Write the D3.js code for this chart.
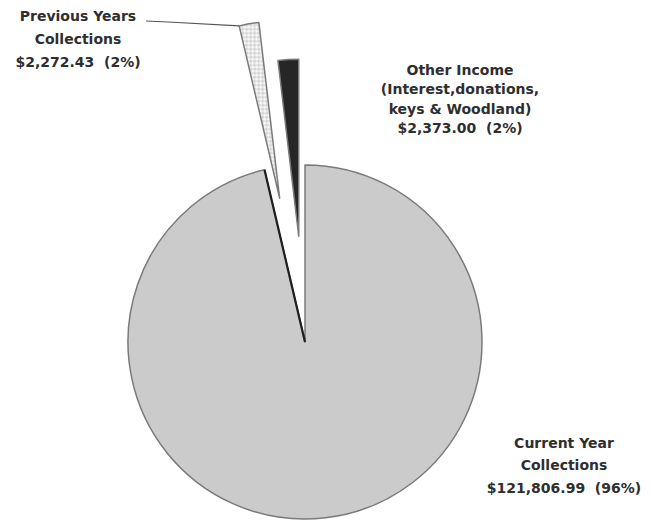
<!DOCTYPE html>
<html>
<head>
<meta charset="utf-8">
<script src="https://cdn.jsdelivr.net/npm/d3@7"></script>
<style>
  body { margin: 0; background: #fff; }
  svg text { font-family: "DejaVu Sans", Verdana, sans-serif; font-weight: bold; font-size: 14px; fill: #2e2e2e; }
</style>
</head>
<body>
<svg id="chart" width="651" height="521"></svg>
<script>
// income sources, clockwise from 12 o'clock
const categories = ['Current Year Collections', 'Previous Years Collections', 'Other Income']
const amounts = [121806.99, 2272.43, 2373.00]
const percents = ['96%', '2%', '2%']
const labelLines = [
  ['Current Year', 'Collections'],
  ['Previous Years', 'Collections'],
  ['Other Income', '(Interest,donations,', 'keys & Woodland)']
]

const svg = d3.select('#chart')
const cx = 305, cy = 342, radius = 177
const explode = [0, 146, 106]
const fills = ['#cbcbcb', 'url(#speckle)', '#262626']
const labelPos = [[564, 443], [78, 16], [460, 70]]
const lineGap = [22.5, 23, 19.5]

const defs = svg.append('defs')
const pat = defs.append('pattern').attr('id','speckle').attr('width',4).attr('height',4).attr('patternUnits','userSpaceOnUse')
pat.append('rect').attr('width',4).attr('height',4).attr('fill','#e6e6e6')
pat.append('rect').attr('width',2).attr('height',2).attr('fill','#f8f8f8')
pat.append('rect').attr('x',2).attr('y',2).attr('width',2).attr('height',2).attr('fill','#d2d2d2')

const pie = d3.pie().sort(null).startAngle(0).endAngle(2*Math.PI)
const arcs = pie(amounts)
const arc = d3.arc().innerRadius(0).outerRadius(radius)

const g = svg.append('g').attr('transform',`translate(${cx},${cy})`)
const slice = g.selectAll('g.slice').data(arcs).join('g')
  .attr('class','slice')
  .attr('transform',(d,i)=>{
    const m = (d.startAngle+d.endAngle)/2
    return `translate(${explode[i]*Math.sin(m)},${-explode[i]*Math.cos(m)})`
  })
slice.append('path')
  .attr('d',arc)
  .attr('fill',(d,i)=>fills[i])
  .attr('stroke','#7a7a7a')
  .attr('stroke-width',1.5)
  .attr('stroke-linejoin','round')

// dark shaded edge on the left side of the big slice
const big = arcs[0]
g.append('line')
  .attr('x1',0).attr('y1',0)
  .attr('x2',radius*Math.sin(big.endAngle)).attr('y2',-radius*Math.cos(big.endAngle))
  .attr('stroke','#1e1e1e').attr('stroke-width',2.2)

// labels
const fmt = d3.format(',.2f')
const labels = svg.selectAll('text.lbl').data(arcs).join('text')
  .attr('class','lbl')
  .attr('text-anchor','middle')
  .attr('x',(d,i)=>labelPos[i][0])
  .attr('y',(d,i)=>labelPos[i][1])
  .style('white-space','pre')
labels.each(function(d,i){
  const t = d3.select(this)
  const lines = labelLines[i].concat([`$${fmt(amounts[i])}  (${percents[i]})`])
  lines.forEach((s,k)=>{
    t.append('tspan').attr('x',labelPos[i][0]).attr('dy',k===0?'0.35em':lineGap[i]).text(s)
  })
})

// leader for "Previous Years"
const prev = arcs[1]
const pm = (prev.startAngle+prev.endAngle)/2
const px = cx + explode[1]*Math.sin(pm) + radius*Math.sin(prev.startAngle)
const py = cy - explode[1]*Math.cos(pm) - radius*Math.cos(prev.startAngle)
svg.append('polyline')
  .attr('points',`146,21 168,22 ${px},${py}`)
  .attr('fill','none').attr('stroke','#555').attr('stroke-width',1.2)
</script>
</body>
</html>
